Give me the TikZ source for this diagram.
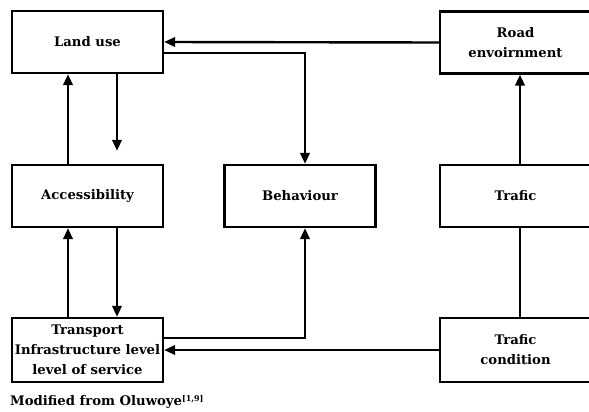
\documentclass[tikz,border=0pt]{standalone}
\usepackage{fontspec}
\setmainfont{DejaVu Serif}
\usepackage{tikz}
\usetikzlibrary{positioning,shapes,arrows.meta,calc}

\begin{document}
\begin{tikzpicture}[x=1pt,y=-1pt,
    box/.style={draw,line width=2.4pt,minimum width=151pt,minimum height=62pt,align=center,inner sep=1pt,
        font=\fontsize{13.2}{20}\selectfont\bfseries},
    arr/.style={line width=2.4pt,-{Triangle[length=11pt,width=9.5pt]}},
    lin/.style={line width=2.4pt}]
    \useasboundingbox (0,0) rectangle (589,412);
    \node[box] (land) at (87.5,42) {Land use};
    \node[box] (acc) at (87.5,196) {Accessibility};
    \node[box,minimum height=64pt] (trans) at (87.5,350) {Transport\\Infrastructure level\\level of service};
    \node[box] (behav) at (300,196) {Behaviour};
    \node[box] (road) at (515.5,42.5) {Road\\envoirnment};
    \node[box] (trafic) at (515.5,196) {Trafic};
    \node[box,minimum height=64pt] (tcond) at (515.5,350) {Trafic\\condition};
    \draw[arr] (road.west) -- (land.east);
    \draw[arr] ([yshift=-11pt]land.east) -| ([xshift=5pt]behav.north);
    \draw[arr] ([xshift=-19.5pt]acc.north) -- ([xshift=-19.5pt]land.south);
    \draw[arr] ([xshift=29.5pt]land.south) -- ([xshift=29.5pt,yshift=13pt]acc.north);
    \draw[arr] ([xshift=-19.5pt]trans.north) -- ([xshift=-19.5pt]acc.south);
    \draw[arr] ([xshift=29.5pt]acc.south) -- ([xshift=29.5pt]trans.north);
    \draw[arr] ([yshift=12pt]trans.east) -| ([xshift=5pt]behav.south);
    \draw[arr] (tcond.west) -- (trans.east);
    \draw[lin] ([xshift=4.5pt]tcond.north) -- ([xshift=4.5pt]trafic.south);
    \draw[arr] ([xshift=4.5pt]trafic.north) -- ([xshift=4.5pt]road.south);
    \node[anchor=west,inner sep=0pt,font=\fontsize{13.2}{17}\selectfont\bfseries] (source) at (10,402)
        {Modified from Oluwoye\textsuperscript{\fontsize{8}{8}\selectfont[1,9]}};
\end{tikzpicture}
\end{document}
